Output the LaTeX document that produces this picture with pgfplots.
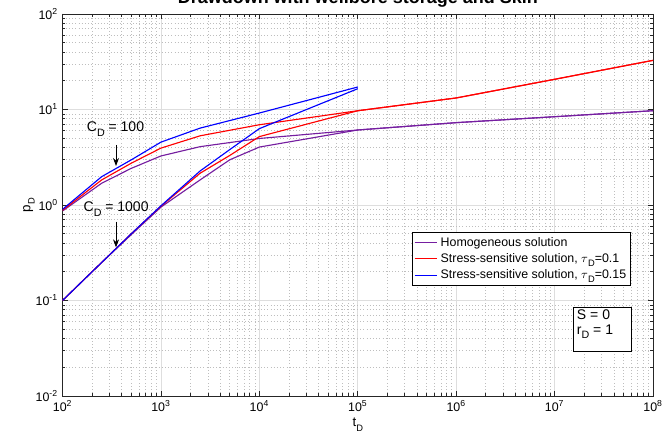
\documentclass[border=0pt]{standalone}
\usepackage{pgfplots}
\pgfplotsset{compat=1.18}
\usepackage{fontspec}
\setmainfont{Liberation Sans}
\usetikzlibrary{arrows.meta}

\definecolor{homog}{RGB}{117,30,160}
\definecolor{gridmajor}{RGB}{222,222,222}
\definecolor{gridminor}{RGB}{190,190,190}
\definecolor{axline}{RGB}{38,38,38}

% lowered subscript in the text font
\newcommand{\sub}[1]{\raisebox{-0.6ex}{\fontsize{7}{7}\selectfont #1}}
\newcommand{\subl}[1]{\raisebox{-0.6ex}{\fontsize{8}{8}\selectfont #1}}

\begin{document}
\begin{tikzpicture}
\begin{axis}[
  at={(0,0)}, anchor=south west,
  scale only axis,
  width=442.9pt, height=286.5pt,
  xmode=log, ymode=log,
  xmin=1e2, xmax=1e8, ymin=1e-2, ymax=1e2,
  xtick={1e2,1e3,1e4,1e5,1e6,1e7,1e8},
  xticklabels={10\textsuperscript{2},10\textsuperscript{3},10\textsuperscript{4},10\textsuperscript{5},10\textsuperscript{6},10\textsuperscript{7},10\textsuperscript{8}},
  ytick={1e-2,1e-1,1e0,1e1,1e2},
  yticklabels={10\textsuperscript{-2},10\textsuperscript{-1},10\textsuperscript{0},10\textsuperscript{1},10\textsuperscript{2}},
  tick label style={font=\fontsize{9.3}{11}\selectfont},
  label style={font=\fontsize{10}{12}\selectfont},
  xlabel={t\sub{D}}, ylabel={p\sub{D}},
  every axis x label/.style={at={(rel axis cs:0.5,-0.075)}, anchor=center},
  every axis y label/.style={at={(rel axis cs:-0.057,0.5)}, anchor=center, rotate=90},
  title={Drawdown with wellbore storage and Skin},
  every axis title/.style={at={(rel axis cs:0.5,1)}, anchor=base, yshift=8.1pt,
    font=\bfseries\fontsize{13.5}{16}\selectfont},
  grid=both,
  major grid style={color=gridmajor, line width=0.6pt},
  minor grid style={color=gridminor, dotted, line width=0.5pt},
  axis line style={color=axline, line width=0.6pt},
  tick style={color=axline, line width=0.5pt},
  major tick length=4pt, minor tick length=2.2pt,
  tick align=inside,
  legend cell align=left,
  legend style={at={(0.963,0.429)}, anchor=north east, draw=black, fill=white,
    line width=0.5pt, font=\fontsize{9.3}{11}\selectfont, inner sep=1.5pt,
    row sep=0pt},
  every axis plot/.append style={line width=0.85pt},
]
% C_D = 100
\addplot[homog] coordinates {(100,0.865) (250,1.69) (500,2.42) (1000,3.26) (2500,4.08) (1e4,4.97) (1e5,6.10) (1e6,7.28) (1e7,8.4) (1e8,9.71)};
\addlegendentry{Homogeneous solution}
\addplot[red] coordinates {(100,0.88) (250,1.83) (500,2.74) (1000,3.94) (2500,5.30) (1e4,6.92) (1e5,9.70) (1e6,13.2) (1e7,20.7) (1e8,32.7)};
\addlegendentry{Stress-sensitive solution, $\tau$\sub{D}=0.1}
\addplot[blue] coordinates {(100,0.9) (250,1.98) (500,2.97) (1000,4.55) (2500,6.38) (1e4,9.18) (1e5,17.2)};
\addlegendentry{Stress-sensitive solution, $\tau$\sub{D}=0.15}
% C_D = 1000
\addplot[homog, forget plot] coordinates {(100,0.1) (250,0.25) (500,0.49) (1000,0.95) (2500,1.83) (5000,2.97) (1e4,4.04) (1e5,6.10) (1e6,7.28) (1e7,8.4) (1e8,9.71)};
\addplot[red, forget plot] coordinates {(100,0.1) (250,0.25) (500,0.5) (1000,0.97) (2500,2.15) (5000,3.3) (1e4,5.2) (1e5,9.70) (1e6,13.2) (1e7,20.7) (1e8,32.7)};
\addplot[blue, forget plot] coordinates {(100,0.1) (250,0.25) (500,0.5) (1000,0.98) (2500,2.27) (5000,3.8) (1e4,6.3) (1e5,16.5)};

% annotations
\node[anchor=base west, font=\fontsize{10.5}{12}\selectfont, inner sep=0pt] at (axis cs:176,5.86) {C\subl{D} = 100};
\draw[-{Stealth[length=6pt,width=4.5pt]}, line width=0.6pt] (axis cs:349.6,4.25) -- (axis cs:349.6,2.56);
\node[anchor=base west, font=\fontsize{10.5}{12}\selectfont, inner sep=0pt] at (axis cs:163,0.851) {C\subl{D} = 1000};
\draw[-{Stealth[length=6pt,width=4.5pt]}, line width=0.6pt] (axis cs:349.6,0.668) -- (axis cs:349.6,0.36);

% parameter box
\draw[black, line width=0.5pt, fill=white] (rel axis cs:0.8645,0.233) rectangle (rel axis cs:0.9627,0.1178);
\node[anchor=base west, font=\fontsize{10.5}{12}\selectfont, inner sep=0pt] at (rel axis cs:0.8708,0.199) {S = 0};
\node[anchor=base west, font=\fontsize{10.5}{12}\selectfont, inner sep=0pt] at (rel axis cs:0.8708,0.162) {r\subl{D} = 1};
\end{axis}
\pgfresetboundingbox
\path[use as bounding box] (-46.9pt,-33.75pt) rectangle (450.4pt,297pt);
\end{tikzpicture}
\end{document}
